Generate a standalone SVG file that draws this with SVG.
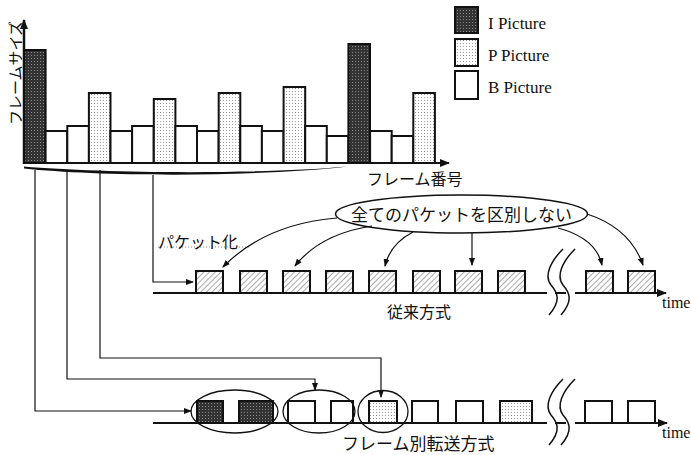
<svg xmlns="http://www.w3.org/2000/svg" width="691" height="455" viewBox="0 0 691 455">
<style>
.jp{font-family:"Noto Sans CJK JP","Noto Sans",sans-serif;fill:#111}
.en{font-family:"Liberation Serif",serif;fill:#111}
.bar{stroke:#111;stroke-width:2}
.pk{stroke:#111;stroke-width:2}
.ln{fill:none;stroke:#111;stroke-width:1.2}
.tl{fill:none;stroke:#111;stroke-width:2}
.brk{fill:none;stroke:#111;stroke-width:1.5}
</style>
<defs>
<pattern id="pI" width="3" height="3" patternUnits="userSpaceOnUse">
<rect width="3" height="3" fill="#333"/><rect x="1" y="1" width="1" height="1" fill="#888"/>
</pattern>
<pattern id="pP" width="3" height="3" patternUnits="userSpaceOnUse">
<rect width="3" height="3" fill="#fff"/><rect x="1" y="1" width="1" height="1" fill="#999"/>
</pattern>
<pattern id="pH" width="4" height="4" patternUnits="userSpaceOnUse" patternTransform="rotate(45)">
<rect width="4" height="4" fill="#fff"/><line x1="0" y1="0" x2="0" y2="4" stroke="#555" stroke-width="1"/>
</pattern>
<marker id="ah" markerWidth="8" markerHeight="6" refX="7" refY="3" orient="auto" markerUnits="userSpaceOnUse">
<path d="M0,0 L8,3 L0,6 Z" fill="#111"/>
</marker>
<marker id="ahB" markerWidth="10" markerHeight="8" refX="9" refY="4" orient="auto" markerUnits="userSpaceOnUse">
<path d="M0,0 L10,4 L0,8 Z" fill="#111"/>
</marker>
</defs>

<g id="chart">
<g id="bars">
<rect class="bar" x="24" y="50" width="21.6" height="113" fill="url(#pI)"/>
<rect class="bar" x="45.6" y="131" width="21.6" height="32" fill="#fff"/>
<rect class="bar" x="67.3" y="126" width="21.6" height="37" fill="#fff"/>
<rect class="bar" x="88.9" y="93" width="21.6" height="70" fill="url(#pP)"/>
<rect class="bar" x="110.5" y="131" width="21.6" height="32" fill="#fff"/>
<rect class="bar" x="132.1" y="126" width="21.6" height="37" fill="#fff"/>
<rect class="bar" x="153.8" y="99" width="21.6" height="64" fill="url(#pP)"/>
<rect class="bar" x="175.4" y="126" width="21.6" height="37" fill="#fff"/>
<rect class="bar" x="197" y="131" width="21.6" height="32" fill="#fff"/>
<rect class="bar" x="218.7" y="93" width="21.6" height="70" fill="url(#pP)"/>
<rect class="bar" x="240.3" y="126" width="21.6" height="37" fill="#fff"/>
<rect class="bar" x="261.9" y="131" width="21.6" height="32" fill="#fff"/>
<rect class="bar" x="283.6" y="87" width="21.6" height="76" fill="url(#pP)"/>
<rect class="bar" x="305.2" y="126" width="21.6" height="37" fill="#fff"/>
<rect class="bar" x="326.8" y="136" width="21.6" height="27" fill="#fff"/>
<rect class="bar" x="348.4" y="44" width="21.6" height="119" fill="url(#pI)"/>
<rect class="bar" x="370.1" y="131" width="21.6" height="32" fill="#fff"/>
<rect class="bar" x="391.7" y="136" width="21.6" height="27" fill="#fff"/>
<rect class="bar" x="413.3" y="93" width="21.6" height="70" fill="url(#pP)"/>
</g>
<line x1="24" y1="164" x2="24" y2="20" stroke="#111" stroke-width="2.5" marker-end="url(#ahB)"/>
<line x1="23" y1="163" x2="449" y2="163" stroke="#111" stroke-width="2" marker-end="url(#ahB)"/>
<text class="jp" font-size="15" transform="translate(21,125) rotate(-90)">フレームサイズ</text>
<text class="jp" x="367" y="185" font-size="16">フレーム番号</text>
<path d="M24,166.5 C100,173 250,175 348,166.5 C250,177.5 100,176.5 24,168.5 Z" fill="#111"/>
</g>

<g id="legend">
<rect class="bar" x="455" y="7" width="23" height="26" fill="url(#pI)"/>
<rect class="bar" x="455" y="39" width="23" height="27" fill="url(#pP)"/>
<rect class="bar" x="455" y="71" width="23" height="28" fill="#fff"/>
<text class="en" x="488" y="29" font-size="17">I Picture</text>
<text class="en" x="488" y="61" font-size="17">P Picture</text>
<text class="en" x="488" y="93" font-size="17">B Picture</text>
</g>

<g id="conventional">
<line class="tl" x1="153" y1="293" x2="666" y2="293" marker-end="url(#ahB)"/>
<rect class="pk" x="196" y="271" width="27" height="22" fill="url(#pH)"/>
<rect class="pk" x="240" y="271" width="27" height="22" fill="url(#pH)"/>
<rect class="pk" x="283" y="271" width="27" height="22" fill="url(#pH)"/>
<rect class="pk" x="326" y="271" width="27" height="22" fill="url(#pH)"/>
<rect class="pk" x="369" y="271" width="27" height="22" fill="url(#pH)"/>
<rect class="pk" x="413" y="271" width="27" height="22" fill="url(#pH)"/>
<rect class="pk" x="455" y="271" width="27" height="22" fill="url(#pH)"/>
<rect class="pk" x="498" y="271" width="27" height="22" fill="url(#pH)"/>
<rect class="pk" x="586" y="271" width="27" height="22" fill="url(#pH)"/>
<rect class="pk" x="628" y="271" width="27" height="22" fill="url(#pH)"/>
<rect x="547" y="248" width="28" height="68" fill="#fff"/>
<path class="brk" d="M549,315 C562,300 557,292 551,285 C544,276 550,262 563,249"/>
<path class="brk" d="M561,315 C574,300 569,292 563,285 C556,276 562,262 575,249"/>
<line x1="555" y1="293" x2="566" y2="293" stroke="#111" stroke-width="2"/>
<text class="en" x="662" y="308" font-size="16">time</text>
<text class="jp" x="387" y="318" font-size="16">従来方式</text>
</g>

<g id="note">
<ellipse cx="461.5" cy="214" rx="126" ry="19" fill="#fff" stroke="#111" stroke-width="1.5"/>
<text class="jp" x="461.5" y="221" font-size="17" text-anchor="middle">全てのパケットを区別しない</text>
</g>

<g id="packetize">
<line x1="158" y1="247" x2="250" y2="247" stroke="#888" stroke-width="1" stroke-dasharray="1 2"/>
<text class="jp" x="158" y="248" font-size="16">パケット化</text>
</g>

<g id="framewise">
<line class="tl" x1="153" y1="423" x2="667" y2="423" marker-end="url(#ahB)"/>
<rect class="pk" x="197" y="401" width="26" height="22" fill="url(#pI)"/>
<rect class="pk" x="239" y="401" width="34" height="22" fill="url(#pI)"/>
<rect class="pk" x="288" y="401" width="27" height="22" fill="#fff"/>
<rect class="pk" x="331" y="401" width="22" height="22" fill="#fff"/>
<rect class="pk" x="369" y="401" width="28" height="22" fill="url(#pP)"/>
<rect class="pk" x="412" y="401" width="26" height="22" fill="#fff"/>
<rect class="pk" x="456" y="401" width="27" height="22" fill="#fff"/>
<rect class="pk" x="500" y="401" width="32" height="22" fill="url(#pP)"/>
<rect class="pk" x="585" y="401" width="27" height="22" fill="#fff"/>
<rect class="pk" x="628" y="401" width="27" height="22" fill="#fff"/>
<ellipse cx="234.5" cy="411.5" rx="43.5" ry="21.5" fill="none" stroke="#111" stroke-width="1.3"/>
<ellipse cx="319" cy="411.5" rx="36" ry="21.5" fill="none" stroke="#111" stroke-width="1.3"/>
<ellipse cx="383" cy="411.5" rx="25" ry="21" fill="none" stroke="#111" stroke-width="1.3"/>
<rect x="547" y="378" width="28" height="68" fill="#fff"/>
<path class="brk" d="M549,445 C562,430 557,422 551,415 C544,406 550,392 563,379"/>
<path class="brk" d="M561,445 C574,430 569,422 563,415 C556,406 562,392 575,379"/>
<line x1="555" y1="423" x2="566" y2="423" stroke="#111" stroke-width="2"/>
<text class="en" x="662" y="438" font-size="16">time</text>
<text class="jp" x="342" y="450" font-size="17">フレーム別転送方式</text>
</g>

<g id="connectors">
<path class="ln" d="M153,175 L153,282 L193,282" marker-end="url(#ah)"/>
<path class="ln" d="M35,170 L35,411 L191,411" marker-end="url(#ah)"/>
<path class="ln" d="M67,170 L67,379 L315,379 L315,390" marker-end="url(#ah)"/>
<path class="ln" d="M100,170 L100,358 L381,358 L381,397" marker-end="url(#ah)"/>
<path class="ln" d="M337,218 Q265,224 223,267" marker-end="url(#ah)"/>
<path class="ln" d="M372,226 Q320,234 295,266" marker-end="url(#ah)"/>
<path class="ln" d="M413,232 Q390,244 385,266" marker-end="url(#ah)"/>
<path class="ln" d="M472,233 L472,265" marker-end="url(#ah)"/>
<path class="ln" d="M558,228 Q596,238 602,265" marker-end="url(#ah)"/>
<path class="ln" d="M587,214 Q630,228 643,265" marker-end="url(#ah)"/>
</g>
</svg>
